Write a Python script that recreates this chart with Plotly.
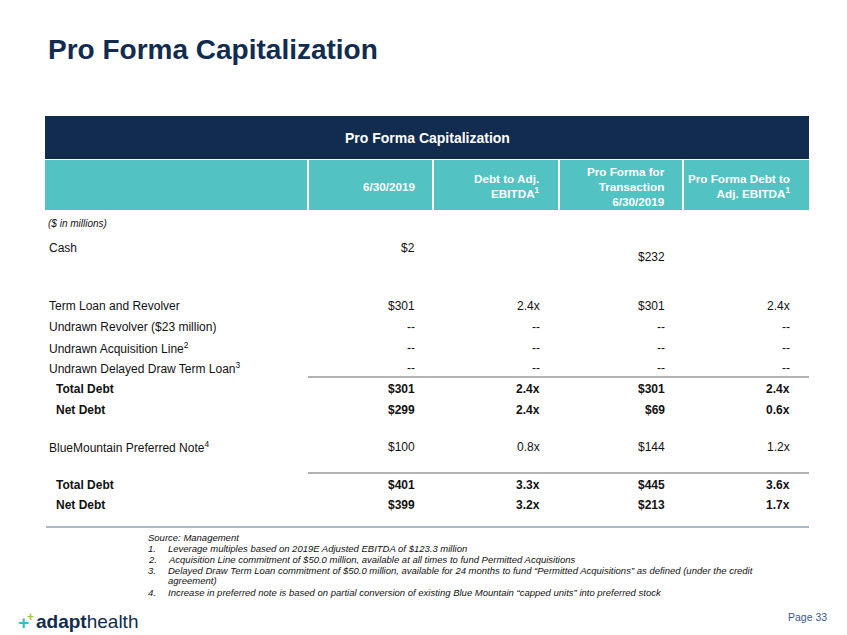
import plotly.graph_objects as go

# ---------------- data ----------------
title = "Pro Forma Capitalization"
table_title = "Pro Forma Capitalization"
col_headers = ["6/30/2019",
               "Debt to Adj.<br>EBITDA<sup>1</sup>",
               "Pro Forma for<br>Transaction<br>6/30/2019",
               "Pro Forma Debt to<br>Adj. EBITDA<sup>1</sup>"]
units_note = "($ in millions)"
row_labels = ["Cash",
              "Term Loan and Revolver",
              "Undrawn Revolver ($23 million)",
              "Undrawn Acquisition Line<sup>2</sup>",
              "Undrawn Delayed Draw Term Loan<sup>3</sup>",
              "Total Debt",
              "Net Debt",
              "BlueMountain Preferred Note<sup>4</sup>",
              "Total Debt",
              "Net Debt"]
row_bold = [False, False, False, False, False, True, True, False, True, True]
debt_0630 = ["$2", "$301", "--", "--", "--", "$301", "$299", "$100", "$401", "$399"]
debt_to_ebitda = ["", "2.4x", "--", "--", "--", "2.4x", "2.4x", "0.8x", "3.3x", "3.2x"]
pf_0630 = ["$232", "$301", "--", "--", "--", "$301", "$69", "$144", "$445", "$213"]
pf_debt_to_ebitda = ["", "2.4x", "--", "--", "--", "2.4x", "0.6x", "1.2x", "3.6x", "1.7x"]
footnote_source = "Source: Management"
footnotes = [
    ("1.", "Leverage multiples based on 2019E Adjusted EBITDA of $123.3 million"),
    ("2.", "Acquisition Line commitment of $50.0 million, available at all times to fund Permitted Acquisitions"),
    ("3.", "Delayed Draw Term Loan commitment of $50.0 million, available for 24 months to fund \u201cPermitted Acquisitions\u201d as defined (under the credit<br>agreement)"),
    ("4.", "Increase in preferred note is based on partial conversion of existing Blue Mountain \u201ccapped units\u201d into preferred stock"),
]
page_label = "Page 33"

# ---------------- layout geometry (pixel-like axis units) ----------------
W, H = 847, 635
NAVY = "#112c4e"
TEAL = "#52c2c2"
FONT = "Arial, Liberation Sans, sans-serif"
TXT = "#111111"

row_y = [248, 306, 327, 348, 368, 389, 410, 447, 485, 505]
row_y_override = {(0, 2): 257}  # $232 sits lower
label_x = 47
label_x_bold = 54
col_right = [417, 542, 667, 792]
col_dividers = [308, 433, 559, 683]
tbl_left, tbl_right = 45, 809

fig = go.Figure()
fig.add_trace(go.Scatter(x=[0, W], y=[0, H], mode="markers",
                         marker=dict(opacity=0), hoverinfo="skip", showlegend=False))

shapes = []
ann = []

def A(x, y, text, size=12, color=TXT, xanchor="left", yanchor="middle", align="left", **kw):
    ann.append(dict(x=x, y=y, xref="x", yref="y", text=text, showarrow=False,
                    xanchor=xanchor, yanchor=yanchor, align=align,
                    font=dict(family=FONT, size=size, color=color), **kw))

# Title
A(46, 49, "<b>%s</b>" % title, size=28, color=NAVY)

# Navy header band
shapes.append(dict(type="rect", xref="x", yref="y", x0=tbl_left, x1=tbl_right, y0=116, y1=159,
                   fillcolor=NAVY, line=dict(width=0), layer="below"))
A(427, 138, "<b>%s</b>" % table_title, size=14, color="white", xanchor="center")

# Teal header row
shapes.append(dict(type="rect", xref="x", yref="y", x0=tbl_left, x1=tbl_right, y0=160, y1=210,
                   fillcolor=TEAL, line=dict(width=0), layer="below"))
for xd in col_dividers:
    shapes.append(dict(type="line", xref="x", yref="y", x0=xd, x1=xd, y0=160, y1=210,
                       line=dict(color="white", width=2)))
for i, h in enumerate(col_headers):
    A(col_right[i], 186, "<b>%s</b>" % h, size=11.7, color="white", xanchor="right", align="right")

A(46, 223, "<i>%s</i>" % units_note, size=10)

# Rows
cols = [debt_0630, debt_to_ebitda, pf_0630, pf_debt_to_ebitda]
for r, lab in enumerate(row_labels):
    b = row_bold[r]
    A(label_x_bold if b else label_x, row_y[r], ("<b>%s</b>" % lab) if b else lab, size=12)
    for c, col in enumerate(cols):
        v = col[r]
        if not v:
            continue
        y = row_y_override.get((r, c), row_y[r])
        A(col_right[c], y, ("<b>%s</b>" % v) if b else v, size=12, xanchor="right")

# Rules
shapes.append(dict(type="line", xref="x", yref="y", x0=308, x1=809, y0=377, y1=377,
                   line=dict(color="#9a9a9a", width=1.3)))
shapes.append(dict(type="line", xref="x", yref="y", x0=308, x1=809, y0=473, y1=473,
                   line=dict(color="#9a9a9a", width=1.3)))
shapes.append(dict(type="line", xref="x", yref="y", x0=46, x1=809, y0=527, y1=527,
                   line=dict(color="#8fa0b5", width=1.5)))

# Footnotes
FS = 9.5
A(146, 537, "<i>%s</i>" % footnote_source, size=FS)
fy = [548, 559, 570, 592]
for (num, txt), y in zip(footnotes, fy):
    A(146, y, "<i>%s</i>" % num, size=FS)
    for k, part in enumerate(txt.split("<br>")):
        A(166, y + 10.5 * k, "<i>%s</i>" % part, size=FS)

# Logo
A(23.5, 622, "<b>+</b>", size=19, color="#3fb8c4", xanchor="center")
A(30.5, 616.5, "<b>+</b>", size=12, color="#a3c93a", xanchor="center")
A(34, 621, "<b>adapt</b>health", size=19, color=NAVY)

# Page
A(829, 617, page_label, size=10.5, color="#3a5b86", xanchor="right")

fig.update_layout(
    width=W, height=H, margin=dict(l=0, r=0, t=0, b=0),
    paper_bgcolor="white", plot_bgcolor="white",
    xaxis=dict(range=[0, W], visible=False, fixedrange=True),
    yaxis=dict(range=[H, 0], visible=False, fixedrange=True),
    shapes=shapes, annotations=ann, showlegend=False,
)
fig.write_html("out.html", config=dict(displayModeBar=False),
               post_script="document.body.style.margin='0';document.body.style.overflow='hidden';")
